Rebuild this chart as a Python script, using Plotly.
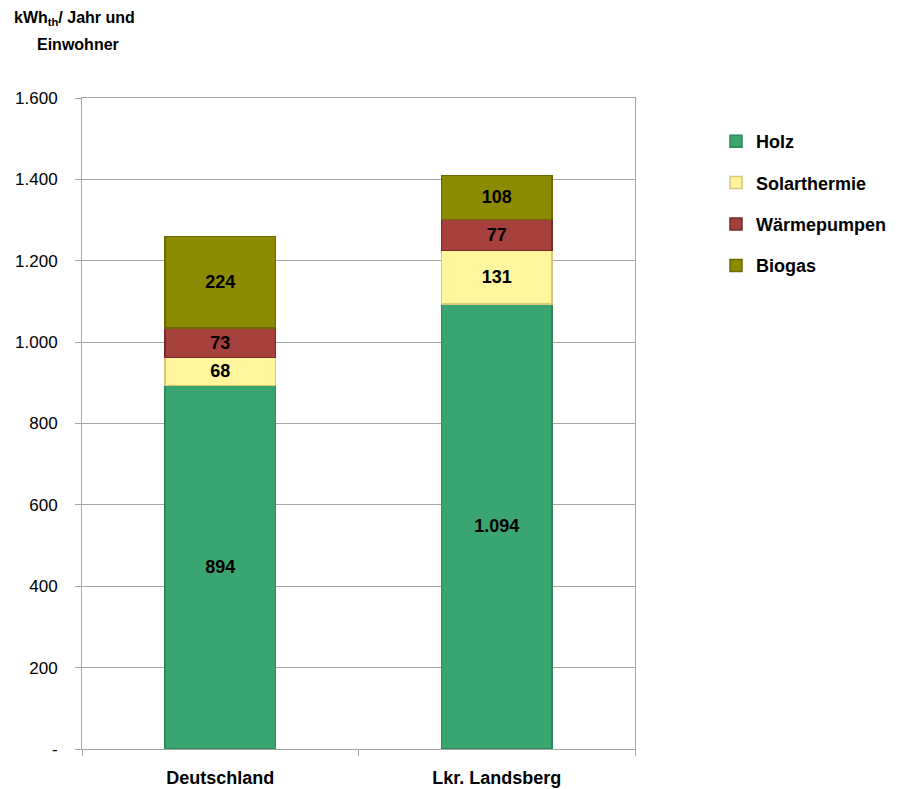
import plotly.graph_objects as go

categories = ["Deutschland", "Lkr. Landsberg"]
series_names = ["Holz", "Solarthermie", "Wärmepumpen", "Biogas"]
holz = [894, 1094]
solarthermie = [68, 131]
waermepumpen = [73, 77]
biogas = [224, 108]
tick_vals = [0, 200, 400, 600, 800, 1000, 1200, 1400, 1600]
tick_text = ["-", "200", "400", "600", "800", "1.000", "1.200", "1.400", "1.600"]

values = [holz, solarthermie, waermepumpen, biogas]
fills = ["#3aa570", "#fff59d", "#a6403d", "#8c8a00"]
edges = ["#2c8a5a", "#d8c878", "#7a2a28", "#6b6a00"]

FONT = "Liberation Sans"
ML, MR, MT, MB = 82, 264, 98, 40

fig = go.Figure()
for name, vals, fc, ec in zip(series_names, values, fills, edges):
    fig.add_trace(go.Bar(
        x=categories, y=vals, name=name, legendgroup=name,
        marker=dict(color=fc, line=dict(color=ec, width=1.5)),
        texttemplate="%{y:,}", textposition="inside", insidetextanchor="middle",
        textfont=dict(family=FONT, size=18, color="black", weight="bold"),
        constraintext="none",
    ))

fig.update_layout(
    width=899, height=789,
    barmode="stack", bargap=0.6,
    separators=",.",
    paper_bgcolor="white", plot_bgcolor="white",
    margin=dict(l=ML, r=MR, t=MT, b=MB, autoexpand=False),
    font=dict(family=FONT, size=16, color="black"),
    showlegend=True,
    legend=dict(
        traceorder="grouped", x=(716 - ML) / (899 - ML - MR), xanchor="left",
        y=1 + (MT - 123) / (789 - MT - MB), yanchor="top",
        font=dict(family=FONT, size=18, color="black", weight="bold"),
        itemwidth=30, tracegroupgap=15,
        bgcolor="rgba(0,0,0,0)",
    ),
)
fig.update_yaxes(
    range=[0, 1600], tickvals=tick_vals, ticktext=tick_text,
    showgrid=True, gridcolor="#a6a6a6", gridwidth=1,
    showline=True, linecolor="#a6a6a6", linewidth=1, mirror=True,
    ticks="outside", ticklen=6, tickcolor="#a6a6a6",
    tickfont=dict(family=FONT, size=17, color="black"),
    zeroline=False, ticklabelstandoff=14, automargin=False,
)
fig.update_xaxes(
    showline=True, linecolor="#a6a6a6", linewidth=1, mirror=True,
    ticks="outside", ticklen=6, tickcolor="#a6a6a6", tickson="boundaries",
    tickfont=dict(family=FONT, size=18, color="black", weight="bold"),
    ticklabelstandoff=12, automargin=False,
)

pw = 899 - ML - MR
ph = 789 - MT - MB
fig.add_annotation(
    x=(12 - ML) / pw, y=1 + (MT - 18) / ph, xref="paper", yref="paper", showarrow=False,
    xanchor="left", yanchor="middle",
    text="kWh<sub>th</sub>/ Jahr und",
    font=dict(family=FONT, size=16, color="black", weight="bold"),
)
fig.add_annotation(
    x=(35 - ML) / pw, y=1 + (MT - 45) / ph, xref="paper", yref="paper", showarrow=False,
    xanchor="left", yanchor="middle",
    text="Einwohner",
    font=dict(family=FONT, size=16, color="black", weight="bold"),
)

fig.write_html("out.html")
